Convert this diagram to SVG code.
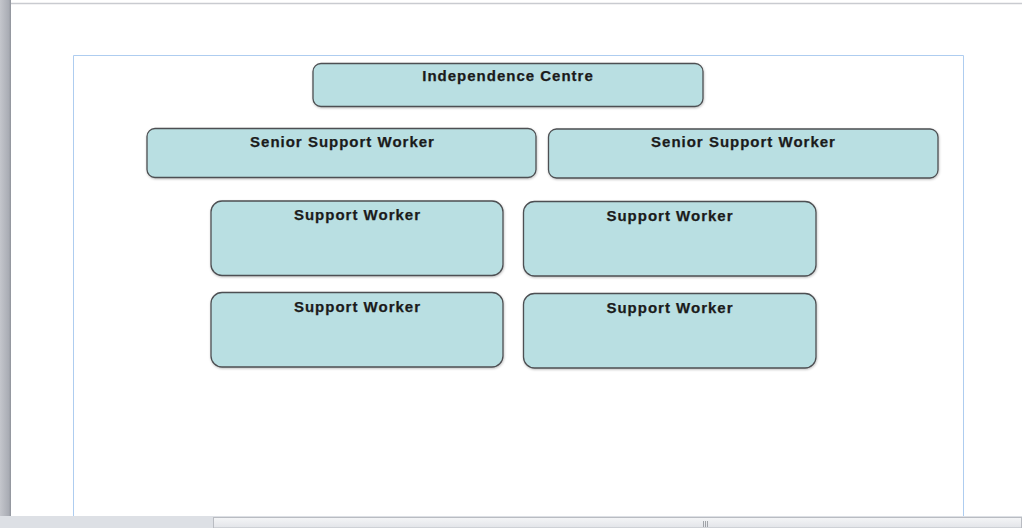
<svg xmlns="http://www.w3.org/2000/svg" width="1022" height="528" viewBox="0 0 1022 528">
<defs>
<linearGradient id="lbar" x1="0" y1="0" x2="1" y2="0">
<stop offset="0" stop-color="#c4c6cc"/>
<stop offset="0.8" stop-color="#a9acb4"/>
<stop offset="1" stop-color="#8f939b"/>
</linearGradient>
<linearGradient id="sb" x1="0" y1="0" x2="0" y2="1">
<stop offset="0" stop-color="#f4f5f7"/>
<stop offset="1" stop-color="#e2e4e8"/>
</linearGradient>
<filter id="sh" x="-5%" y="-10%" width="110%" height="130%">
<feDropShadow dx="0.5" dy="1" stdDeviation="0.8" flood-color="#000" flood-opacity="0.25"/>
</filter>
</defs>
<style>
.box{fill:#b9dfe2;stroke:#4d4f52;stroke-width:1.3;filter:url(#sh)}
.lbl{font-family:"Liberation Sans",Arial,sans-serif;font-weight:bold;font-size:15px;letter-spacing:1px;fill:#1b1b1b;stroke:#1b1b1b;stroke-width:0.25;text-anchor:middle}
</style>
<rect x="0" y="0" width="1022" height="528" fill="#ffffff"/>
<!-- window chrome -->
<rect x="0" y="0" width="11" height="518" fill="url(#lbar)"/>
<line x1="11" y1="3.5" x2="1022" y2="3.5" stroke="#c9cbd0" stroke-width="1.5"/>
<!-- page frame -->
<path d="M73.5,517 V55.5 H963.5 V517" fill="none" stroke="#aecdf0" stroke-width="1"/>
<!-- bottom scrollbar -->
<rect x="0" y="516" width="1022" height="12" fill="#dde0e5"/>
<rect x="213.5" y="517.5" width="808" height="10.5" fill="url(#sb)" stroke="#b9bcc2" stroke-width="1"/>
<g stroke="#8d9096" stroke-width="0.8">
<line x1="703.5" y1="521" x2="703.5" y2="527"/>
<line x1="705.5" y1="521" x2="705.5" y2="527"/>
<line x1="707.5" y1="521" x2="707.5" y2="527"/>
</g>
<g id="connectors"/>
<g id="node-independence-centre">
<rect class="box" x="313" y="63.5" width="390" height="43" rx="8"/>
<text class="lbl" x="508" y="80.5">Independence Centre</text>
</g>
<g id="node-senior-left">
<rect class="box" x="147" y="128.5" width="389" height="49" rx="8"/>
<text class="lbl" x="342.5" y="146.5">Senior Support Worker</text>
</g>
<g id="node-senior-right">
<rect class="box" x="548.5" y="129" width="389.5" height="49" rx="8"/>
<text class="lbl" x="743.5" y="146.5">Senior Support Worker</text>
</g>
<g id="node-support-1">
<rect class="box" x="211" y="201" width="292" height="74.5" rx="11"/>
<text class="lbl" x="357.5" y="219.5">Support Worker</text>
</g>
<g id="node-support-2">
<rect class="box" x="523.5" y="201.5" width="292.5" height="74.5" rx="11"/>
<text class="lbl" x="670" y="220.5">Support Worker</text>
</g>
<g id="node-support-3">
<rect class="box" x="211" y="292.5" width="292" height="74.5" rx="11"/>
<text class="lbl" x="357.5" y="311.5">Support Worker</text>
</g>
<g id="node-support-4">
<rect class="box" x="523.5" y="293.5" width="292.5" height="74.5" rx="11"/>
<text class="lbl" x="670" y="312.5">Support Worker</text>
</g>
</svg>
